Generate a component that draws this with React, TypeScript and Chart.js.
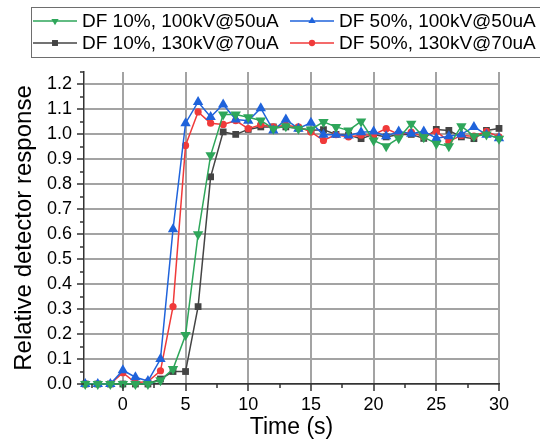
import { useEffect, useRef } from "react";
import { Chart, registerables } from "chart.js";

Chart.register(...registerables);

const FONT = "'Liberation Sans', Arial, sans-serif";

const times = [-3, -2, -1, 0, 1, 2, 3, 4, 5, 6, 7, 8, 9, 10, 11, 12, 13, 14, 15, 16, 17, 18, 19, 20, 21, 22, 23, 24, 25, 26, 27, 28, 29, 30];

const df10_100 = [0, 0, 0, 0, 0, 0, 0.015, 0.06, 0.196, 0.6, 0.916, 1.08, 1.08, 1.069, 1.056, 1.023, 1.033, 1.023, 1.02, 1.05, 1.03, 1.016, 1.052, 0.976, 0.953, 0.985, 1.043, 0.989, 0.963, 0.953, 1.033, 0.993, 1.0, 0.983];
const df50_100 = [0, 0, 0, 0.055, 0.027, 0.012, 0.1, 0.62, 1.045, 1.13, 1.07, 1.12, 1.06, 1.055, 1.105, 1.016, 1.06, 1.023, 1.047, 0.999, 0.999, 0.996, 1.009, 1.012, 0.993, 1.012, 1.003, 1.012, 0.985, 0.993, 1.0, 1.03, 0.999, 0.985];
const df10_130 = [0, 0, 0, 0, 0, 0, 0.02, 0.05, 0.05, 0.31, 0.83, 1.01, 1.0, 1.02, 1.03, 1.03, 1.03, 1.025, 1.017, 1.019, 1.0, 0.997, 0.983, 1.0, 0.99, 1.0, 1.0, 0.984, 1.02, 1.016, 0.99, 0.983, 1.016, 1.024];
const df50_130 = [0, 0, 0, 0.045, 0.005, 0.01, 0.053, 0.31, 0.956, 1.09, 1.045, 1.04, 1.055, 1.023, 1.039, 1.03, 1.037, 1.03, 1.01, 0.976, 0.999, 0.99, 0.997, 0.999, 1.023, 1.0, 1.009, 0.99, 1.012, 0.972, 0.996, 0.993, 1.012, 0.99];

const seriesNames = ["DF 10%, 100kV@50uA", "DF 50%, 100kV@50uA", "DF 10%, 130kV@70uA", "DF 50%, 130kV@70uA"];
const seriesColors = ["#2ea65a", "#1f63db", "#444444", "#f03a3a"];

const xMajorTicks = [0, 5, 10, 15, 20, 25, 30];
const xMinorTicks = [-2.5, 2.5, 7.5, 12.5, 17.5, 22.5, 27.5];
const yMajorTicks = [0, 0.1, 0.2, 0.3, 0.4, 0.5, 0.6, 0.7, 0.8, 0.9, 1.0, 1.1, 1.2];
const yMinorTicks = [0.05, 0.15, 0.25, 0.35, 0.45, 0.55, 0.65, 0.75, 0.85, 0.95, 1.05, 1.15, 1.25];

const X_MIN = -3.1;
const X_MAX = 30;
const Y_MIN = 0;
const Y_MAX = 1.25;

function drawMarker(ctx: CanvasRenderingContext2D, style: string, x: number, y: number, r: number, color: string) {
  ctx.save();
  ctx.fillStyle = color;
  ctx.beginPath();
  if (style === "down") {
    ctx.moveTo(x, y + r);
    ctx.lineTo(x - r * 0.866, y - r * 0.5);
    ctx.lineTo(x + r * 0.866, y - r * 0.5);
    ctx.closePath();
  } else if (style === "up") {
    ctx.moveTo(x, y - r);
    ctx.lineTo(x - r * 0.866, y + r * 0.5);
    ctx.lineTo(x + r * 0.866, y + r * 0.5);
    ctx.closePath();
  } else if (style === "rect") {
    const s = r * 0.707;
    ctx.rect(x - s, y - s, 2 * s, 2 * s);
  } else {
    ctx.arc(x, y, r * 0.75, 0, Math.PI * 2);
  }
  ctx.fill();
  ctx.restore();
}

const legendStyles = ["down", "up", "rect", "circle"];

const legendPlugin = {
  id: "boxLegend",
  afterDraw(chart: any) {
    const ctx: CanvasRenderingContext2D = chart.ctx;
    ctx.save();
    ctx.strokeStyle = "#6e6e6e";
    ctx.lineWidth = 1;
    ctx.strokeRect(31.5, 7.5, 520, 50);
    const cols = [33, 290];
    const rows = [21, 43];
    ctx.font = `19px ${FONT}`;
    ctx.textBaseline = "middle";
    [0, 1, 2, 3].forEach((si, k) => {
      const cx = cols[k % 2];
      const cy = rows[Math.floor(k / 2)];
      ctx.strokeStyle = seriesColors[si];
      ctx.lineWidth = 1.5;
      ctx.beginPath();
      ctx.moveTo(cx, cy);
      ctx.lineTo(cx + 44, cy);
      ctx.stroke();
      drawMarker(ctx, legendStyles[si], cx + 22, cy, 4.2, seriesColors[si]);
      ctx.fillStyle = "#000";
      ctx.fillText(seriesNames[si], cx + 49, cy + 1);
    });
    ctx.restore();
  },
};

const tickPlugin = {
  id: "axisTickMarks",
  afterDraw(chart: any) {
    const ctx: CanvasRenderingContext2D = chart.ctx;
    const { chartArea, scales } = chart;
    const x = scales.x;
    const y = scales.y;
    ctx.save();
    ctx.strokeStyle = "#333";
    ctx.lineWidth = 1.5;
    ctx.beginPath();
    xMajorTicks.forEach((v) => {
      const px = Math.round(x.getPixelForValue(v));
      ctx.moveTo(px, chartArea.bottom);
      ctx.lineTo(px, chartArea.bottom + 7);
    });
    xMinorTicks.forEach((v) => {
      const px = Math.round(x.getPixelForValue(v));
      ctx.moveTo(px, chartArea.bottom);
      ctx.lineTo(px, chartArea.bottom + 4);
    });
    yMajorTicks.forEach((v) => {
      const py = Math.round(y.getPixelForValue(v));
      ctx.moveTo(chartArea.left, py);
      ctx.lineTo(chartArea.left - 7, py);
    });
    yMinorTicks.forEach((v) => {
      const py = Math.round(y.getPixelForValue(v));
      ctx.moveTo(chartArea.left, py);
      ctx.lineTo(chartArea.left - 4, py);
    });
    ctx.stroke();
    ctx.restore();
  },
};

export default function App() {
  const canvasRef = useRef<HTMLCanvasElement | null>(null);

  useEffect(() => {
    if (!canvasRef.current) return;
    Chart.defaults.font.family = FONT;
    const mk = (arr: number[]) => times.map((t, i) => ({ x: t, y: arr[i] }));
    const chart = new Chart(canvasRef.current, {
      type: "line",
      data: {
        datasets: [
          {
            label: seriesNames[0],
            data: mk(df10_100),
            borderColor: seriesColors[0],
            backgroundColor: seriesColors[0],
            pointStyle: "triangle",
            rotation: 180,
            pointRadius: 6,
            borderWidth: 1.5,
            pointBorderWidth: 0,
            order: 0,
            clip: 10,
          },
          {
            label: seriesNames[1],
            data: mk(df50_100),
            borderColor: seriesColors[1],
            backgroundColor: seriesColors[1],
            pointStyle: "triangle",
            pointRadius: 6,
            borderWidth: 1.5,
            pointBorderWidth: 0,
            order: 1,
            clip: 10,
          },
          {
            label: seriesNames[2],
            data: mk(df10_130),
            borderColor: seriesColors[2],
            backgroundColor: seriesColors[2],
            pointStyle: "rect",
            pointRadius: 4.8,
            borderWidth: 1.5,
            pointBorderWidth: 0,
            order: 3,
            clip: 10,
          },
          {
            label: seriesNames[3],
            data: mk(df50_130),
            borderColor: seriesColors[3],
            backgroundColor: seriesColors[3],
            pointStyle: "circle",
            pointRadius: 3.6,
            borderWidth: 1.5,
            pointBorderWidth: 0,
            order: 2,
            clip: 10,
          },
        ],
      },
      options: {
        animation: false,
        responsive: false,
        devicePixelRatio: 1,
        layout: { padding: { left: 0, right: 41, top: 72, bottom: 0 } },
        plugins: { legend: { display: false }, tooltip: { enabled: false } },
        elements: { line: { tension: 0 } },
        scales: {
          x: {
            type: "linear",
            min: X_MIN,
            max: X_MAX,
            afterBuildTicks: (s: any) => {
              s.ticks = xMajorTicks.map((v) => ({ value: v }));
            },
            afterFit: (s: any) => {
              s.height = 57;
            },
            grid: { color: "#a3a3a3", lineWidth: 2, drawTicks: false },
            border: { display: true, color: "#333", width: 1.5 },
            ticks: { color: "#000", font: { size: 18 }, padding: 10, maxRotation: 0, callback: (v: any) => String(v) },
            title: { display: true, text: "Time (s)", color: "#000", font: { size: 23 }, padding: { top: 0, bottom: 0 } },
          },
          y: {
            type: "linear",
            min: Y_MIN,
            max: Y_MAX,
            afterBuildTicks: (s: any) => {
              s.ticks = yMajorTicks.map((v) => ({ value: v }));
            },
            afterFit: (s: any) => {
              s.width = 84;
            },
            grid: { color: "#a3a3a3", lineWidth: 2, drawTicks: false },
            border: { display: true, color: "#333", width: 1.5 },
            ticks: { color: "#000", font: { size: 18 }, padding: 12, callback: (v: any) => Number(v).toFixed(1) },
            title: { display: true, text: "Relative detector response", color: "#000", font: { size: 24 }, padding: { top: 10, bottom: 0 } },
          },
        },
      },
      plugins: [tickPlugin, legendPlugin],
    });
    return () => chart.destroy();
  }, []);

  return (
    <div style={{ position: "fixed", left: 0, top: 0, width: 540, height: 441, background: "#fff" }}>
      <canvas ref={canvasRef} width={540} height={441} style={{ display: "block" }} />
    </div>
  );
}
